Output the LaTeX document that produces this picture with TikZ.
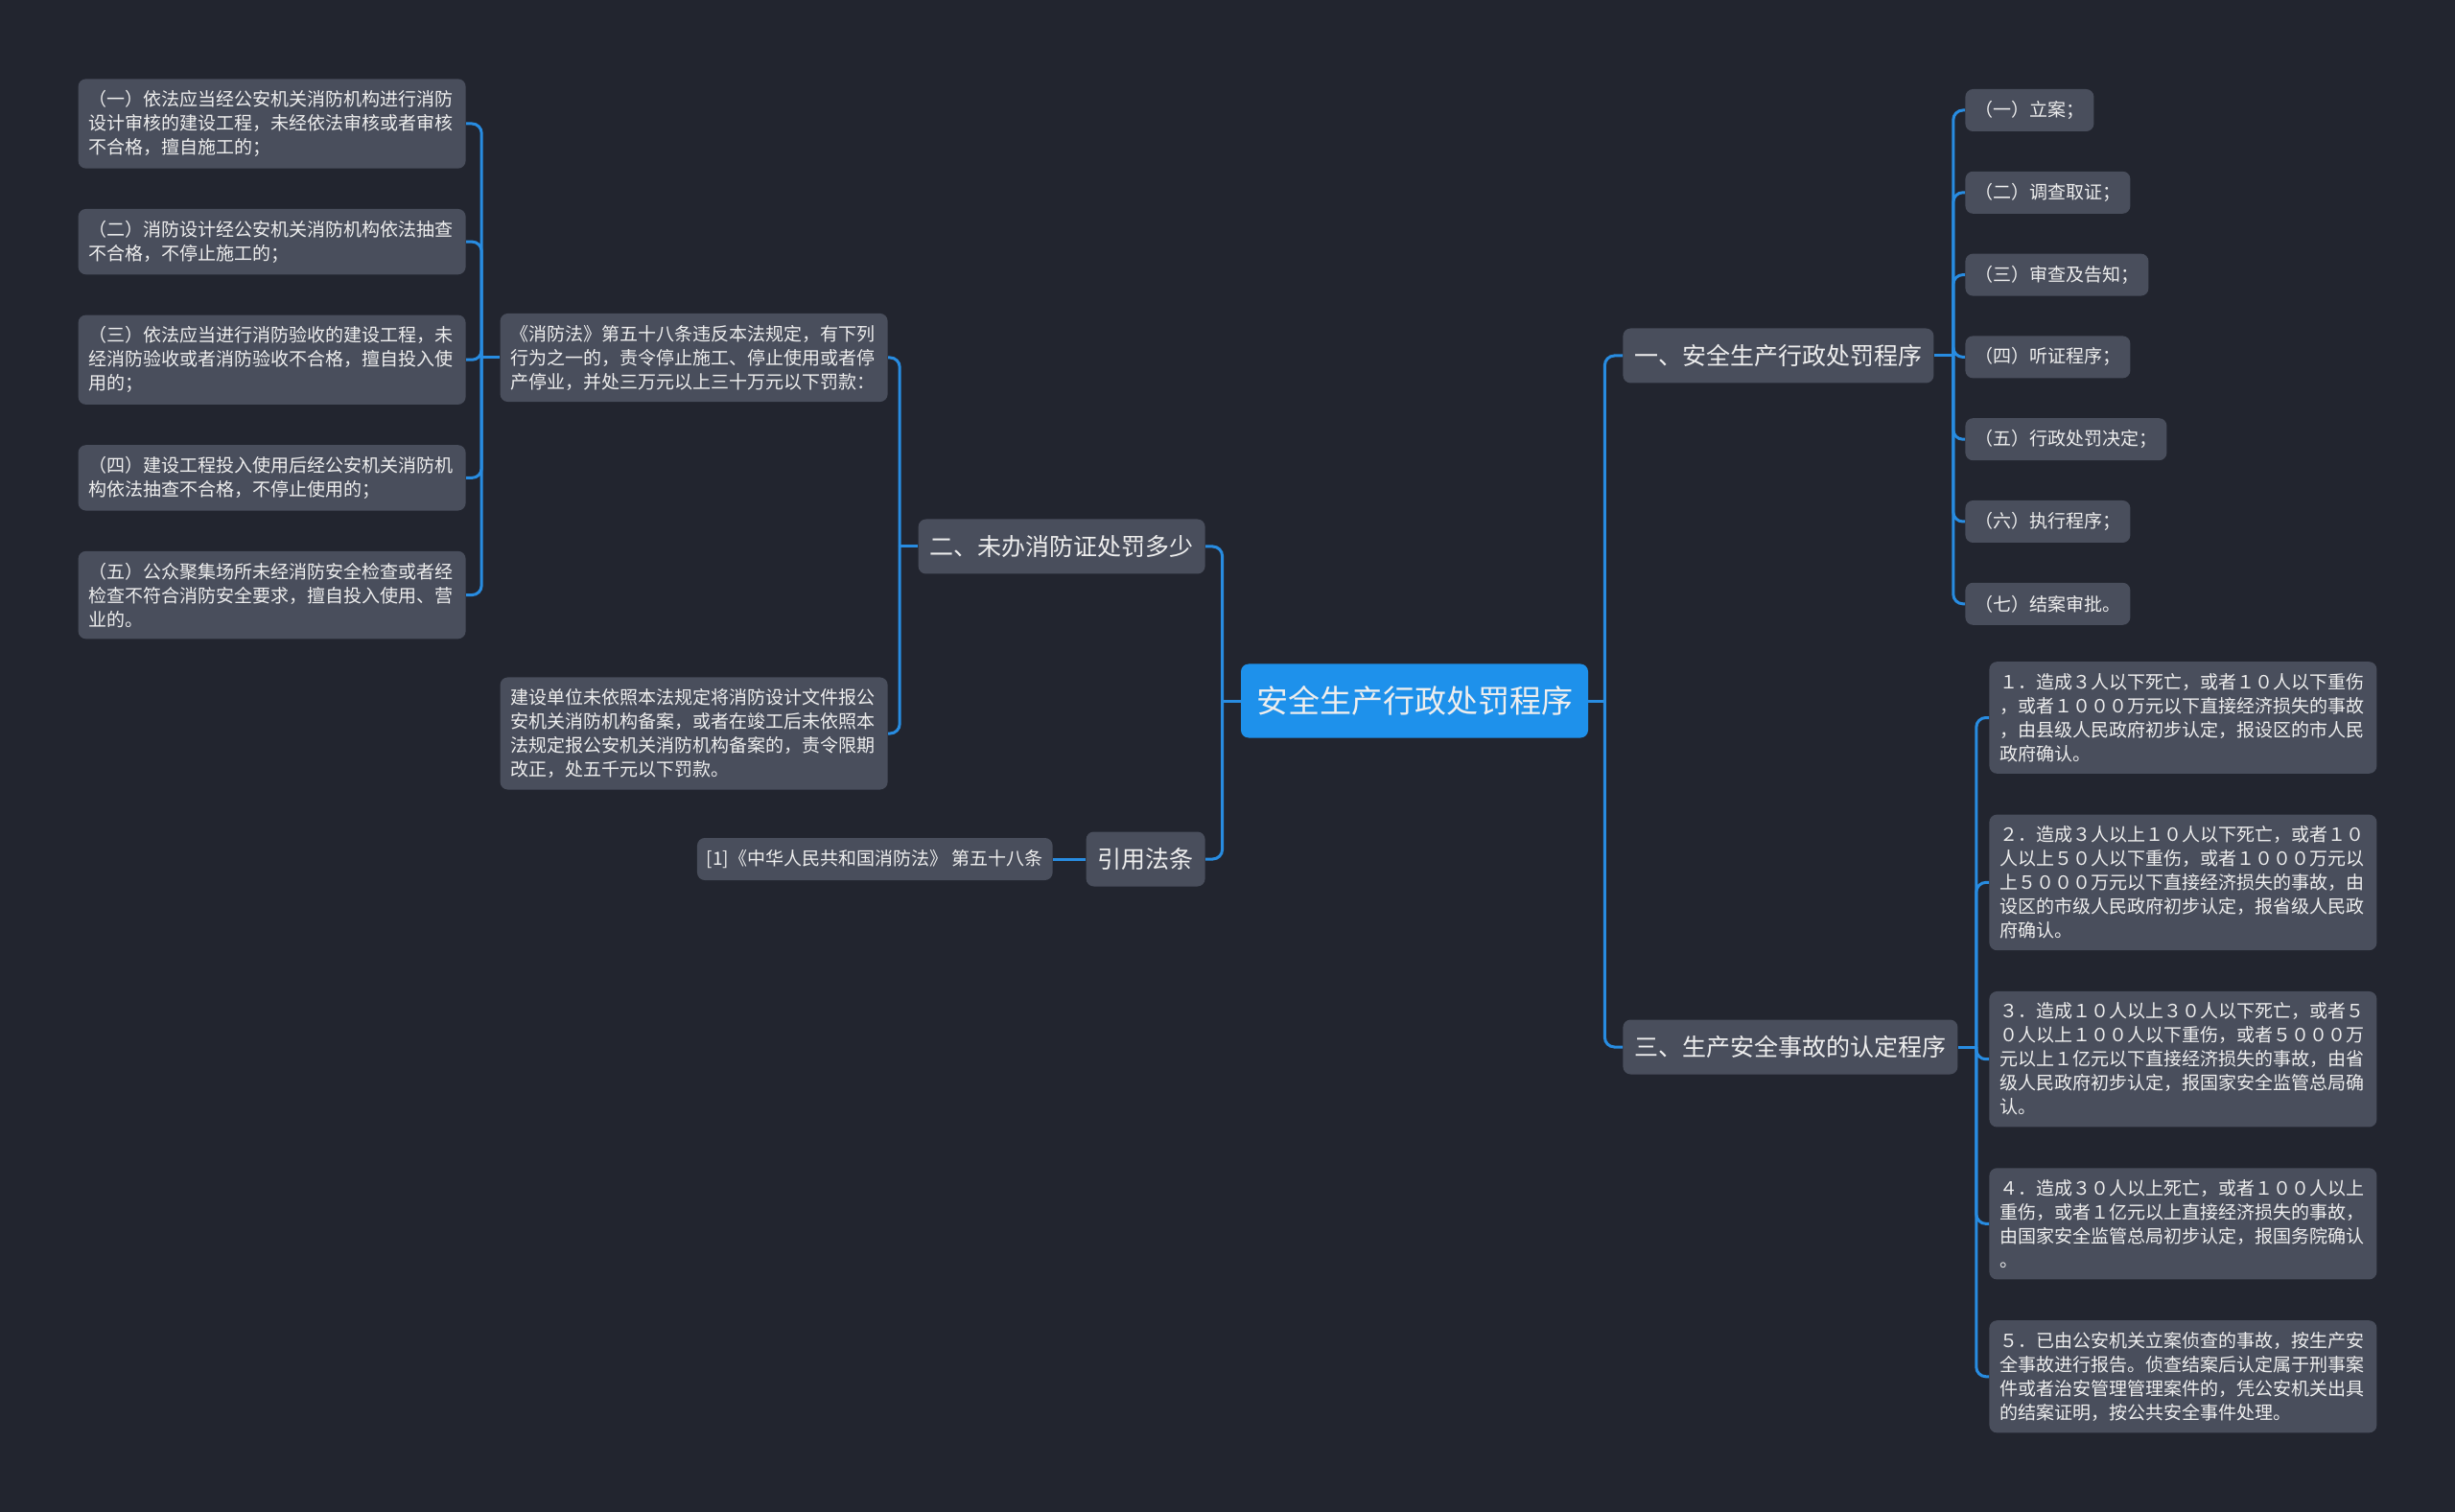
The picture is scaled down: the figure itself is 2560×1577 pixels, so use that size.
\documentclass[tikz,border=0pt]{standalone}
\usepackage{fontspec}
\setmainfont{Noto Sans CJK SC}
\usetikzlibrary{positioning}

\definecolor{bgcol}{RGB}{34,37,47}
\definecolor{boxcol}{RGB}{73,78,92}
\definecolor{rootcol}{RGB}{30,145,235}
\definecolor{linkcol}{RGB}{40,140,225}
\definecolor{txtcol}{RGB}{238,238,238}

\begin{document}
\begin{tikzpicture}[x=0.5pt, y=-0.5pt,
        basic/.style   = {fill=boxcol, text=txtcol, rounded corners=4pt, align=left, inner ysep=6pt, inner xsep=5.5pt},
        root/.style    = {basic, fill=rootcol, font=\fontsize{16.5}{20}\selectfont, minimum height=38.5pt, inner xsep=8pt},
        level 1/.style = {basic, font=\fontsize{12.5}{15}\selectfont, minimum height=28.5pt, inner xsep=6pt},
        level 2/.style = {basic, font=\fontsize{9.5}{12.5}\selectfont, text width=191pt},
        level 3/.style = {basic, font=\fontsize{9.5}{12.5}\selectfont, minimum height=22pt, inner ysep=4pt, inner xsep=5pt},
        link/.style    = {draw=linkcol, line width=1.5pt, rounded corners=5pt}]

    \fill[bgcol] (0,0) rectangle (2560,1577);
    \useasboundingbox (0,0) rectangle (2560,1577);

    % root and the four branches
    \node[root] (root) at (1475,731) {安全生产行政处罚程序};
    \node[level 1, anchor=west] (b1) at (1692,371) {一、安全生产行政处罚程序};
    \node[level 1, anchor=west] (b3) at (1692,1092) {三、生产安全事故的认定程序};
    \node[level 1, anchor=east] (b2) at (1257,570) {二、未办消防证处罚多少};
    \node[level 1, anchor=east] (b4) at (1257,896) {引用法条};

    % steps of branch one, relatively positioned
    \begin{scope}[node distance=20.5pt]
    \node[level 3, anchor=west] (b11) at (2049,115) {（一）立案；};
    \node[level 3, below=of b11.south west, anchor=north west] (b12) {（二）调查取证；};
    \node[level 3, below=of b12.south west, anchor=north west] (b13) {（三）审查及告知；};
    \node[level 3, below=of b13.south west, anchor=north west] (b14) {（四）听证程序；};
    \node[level 3, below=of b14.south west, anchor=north west] (b15) {（五）行政处罚决定；};
    \node[level 3, below=of b15.south west, anchor=north west] (b16) {（六）执行程序；};
    \node[level 3, below=of b16.south west, anchor=north west] (b17) {（七）结案审批。};
    \end{scope}

    % items of branch three
    \begin{scope}[node distance=21pt]
    \node[level 2, anchor=west] (b31) at (2074,748.5) {１．造成３人以下死亡，或者１０人以下重伤\\，或者１０００万元以下直接经济损失的事故\\，由县级人民政府初步认定，报设区的市人民\\政府确认。};
    \node[level 2, below=of b31.south west, anchor=north west] (b32) {２．造成３人以上１０人以下死亡，或者１０\\人以上５０人以下重伤，或者１０００万元以\\上５０００万元以下直接经济损失的事故，由\\设区的市级人民政府初步认定，报省级人民政\\府确认。};
    \node[level 2, below=of b32.south west, anchor=north west] (b33) {３．造成１０人以上３０人以下死亡，或者５\\０人以上１００人以下重伤，或者５０００万\\元以上１亿元以下直接经济损失的事故，由省\\级人民政府初步认定，报国家安全监管总局确\\认。};
    \node[level 2, below=of b33.south west, anchor=north west] (b34) {４．造成３０人以上死亡，或者１００人以上\\重伤，或者１亿元以上直接经济损失的事故，\\由国家安全监管总局初步认定，报国务院确认\\。};
    \node[level 2, below=of b34.south west, anchor=north west] (b35) {５．已由公安机关立案侦查的事故，按生产安\\全事故进行报告。侦查结案后认定属于刑事案\\件或者治安管理管理案件的，凭公安机关出具\\的结案证明，按公共安全事件处理。};
    \end{scope}

    % branch two and its articles
    \node[level 2, anchor=east] (b21) at (926,373) {《消防法》第五十八条违反本法规定，有下列\\行为之一的，责令停止施工、停止使用或者停\\产停业，并处三万元以上三十万元以下罚款：};
    \node[level 2, anchor=east] (b22) at (926,765) {建设单位未依照本法规定将消防设计文件报公\\安机关消防机构备案，或者在竣工后未依照本\\法规定报公安机关消防机构备案的，责令限期\\改正，处五千元以下罚款。};

    \begin{scope}[node distance=20.75pt]
    \node[level 2, anchor=east] (b211) at (486,129) {（一）依法应当经公安机关消防机构进行消防\\设计审核的建设工程，未经依法审核或者审核\\不合格，擅自施工的；};
    \node[level 2, below=of b211.south west, anchor=north west] (b212) {（二）消防设计经公安机关消防机构依法抽查\\不合格，不停止施工的；};
    \node[level 2, below=of b212.south west, anchor=north west] (b213) {（三）依法应当进行消防验收的建设工程，未\\经消防验收或者消防验收不合格，擅自投入使\\用的；};
    \node[level 2, below=of b213.south west, anchor=north west] (b214) {（四）建设工程投入使用后经公安机关消防机\\构依法抽查不合格，不停止使用的；};
    \node[level 2, below=of b214.south west, anchor=north west] (b215) {（五）公众聚集场所未经消防安全检查或者经\\检查不符合消防安全要求，擅自投入使用、营\\业的。};
    \end{scope}

    \node[level 3, anchor=east, minimum height=22pt] (b41) at (1098,896) {[1]《中华人民共和国消防法》 第五十八条};

    % joints where the lines fork
    \coordinate (jr)  at ([xshift=8.5pt]root.east);
    \coordinate (jl)  at ([xshift=-9.5pt]root.west);
    \coordinate (j1)  at ([xshift=10pt]b1.east);
    \coordinate (j3)  at ([xshift=9.5pt]b3.east);
    \coordinate (j2)  at ([xshift=-9.5pt]b2.west);
    \coordinate (j21) at ([xshift=-9.5pt]b21.west);

    % lines from each node to every one of its children
    \draw[link] (root.east) -- (jr);
    \draw[link] (root.west) -- (jl);
    \foreach \b in {b1,b3}
        \draw[link] (jr) |- (\b.west);
    \foreach \b in {b2,b4}
        \draw[link] (jl) |- (\b.east);

    \draw[link] (b1.east) -- (j1);
    \foreach \value in {1,...,7}
        \draw[link] (j1) |- (b1\value.west);

    \draw[link] (b3.east) -- (j3);
    \foreach \value in {1,...,5}
        \draw[link] (j3) |- (b3\value.west);

    \draw[link] (b2.west) -- (j2);
    \foreach \value in {1,2}
        \draw[link] (j2) |- (b2\value.east);

    \draw[link] (b21.west) -- (j21);
    \foreach \value in {1,...,5}
        \draw[link] (j21) |- (b21\value.east);

    \draw[link] (b4.west) -- (b41.east);

\end{tikzpicture}
\end{document}
